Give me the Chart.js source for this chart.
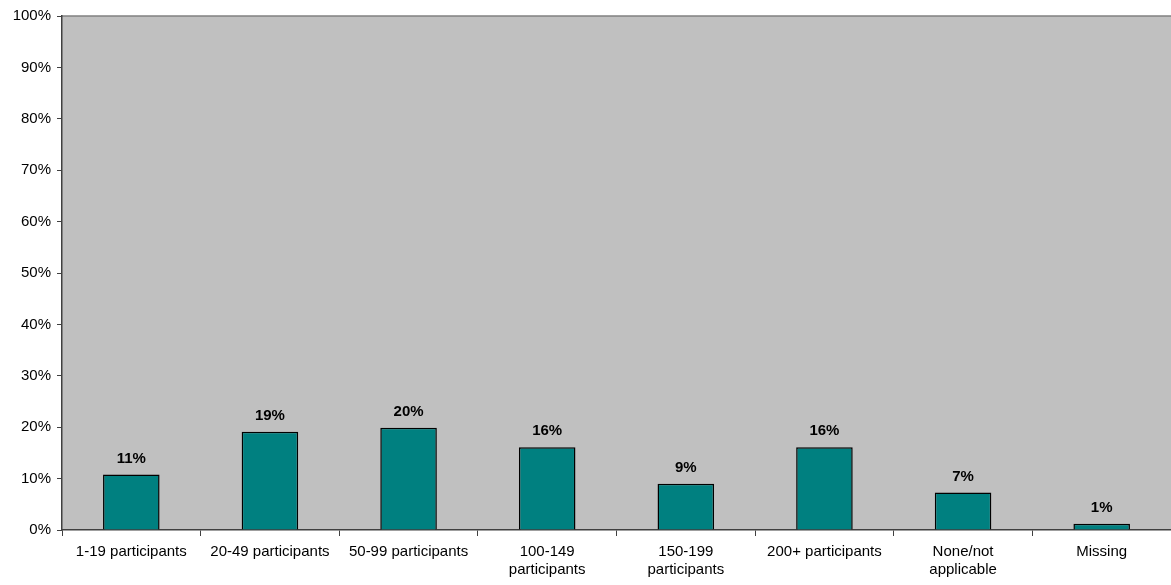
<!DOCTYPE html>
<html>
<head>
<meta charset="utf-8">
<script src="https://cdn.jsdelivr.net/npm/chart.js@4"></script>
<style>
  html, body { margin: 0; padding: 0; background: #fff; }
  #wrap { width: 1171px; height: 585px; }
</style>
</head>
<body>
<div id="wrap"><canvas id="myChart" width="1171" height="585"></canvas></div>
<script>
const categories = [
  '1-19 participants', '20-49 participants', '50-99 participants',
  ['100-149', 'participants'], ['150-199', 'participants'],
  '200+ participants', ['None/not', 'applicable'], 'Missing'
];
const percentValues = [10.8, 19.1, 19.9, 16.1, 9.0, 16.1, 7.3, 1.2];
const yTicks = [0, 10, 20, 30, 40, 50, 60, 70, 80, 90, 100];

// fondo gris del area + linea superior
const plotBg = {
  id: 'plotBg',
  beforeDraw(chart) {
    const { ctx, chartArea: a } = chart;
    ctx.save();
    ctx.fillStyle = '#C0C0C0';
    ctx.fillRect(a.left, a.top, a.right - a.left, a.bottom - a.top);
    ctx.strokeStyle = '#808080';
    ctx.lineWidth = 1.5;
    ctx.beginPath();
    ctx.moveTo(a.left, a.top);
    ctx.lineTo(a.right, a.top);
    ctx.stroke();
    ctx.restore();
  }
};

// etiquetas de valor encima de las barras
const barLabels = {
  id: 'barLabels',
  afterDatasetsDraw(chart) {
    const { ctx } = chart;
    const meta = chart.getDatasetMeta(0);
    ctx.save();
    ctx.font = 'bold 15px "Liberation Sans", Arial, sans-serif';
    ctx.fillStyle = '#000';
    ctx.textAlign = 'center';
    ctx.textBaseline = 'middle';
    meta.data.forEach((bar, i) => {
      ctx.fillText(Math.round(percentValues[i]) + '%', bar.x, bar.y - 16);
    });
    ctx.restore();
  }
};

const ctx = document.getElementById('myChart').getContext('2d');
new Chart(ctx, {
  type: 'bar',
  data: {
    labels: categories,
    datasets: [{
      data: percentValues,
      backgroundColor: '#008080',
      borderColor: '#000',
      borderWidth: 1.5,
      categoryPercentage: 0.8,
      barPercentage: 0.51
    }]
  },
  options: {
    responsive: false,
    animation: false,
    layout: { padding: { top: 16, right: 0, left: 0, bottom: 0 } },
    plugins: { legend: { display: false }, tooltip: { enabled: false } },
    scales: {
      x: {
        grid: { drawOnChartArea: false, drawTicks: true, tickLength: 6, color: '#404040', offset: true },
        border: { color: '#404040', width: 1.5 },
        ticks: {
          color: '#000',
          font: { family: '"Liberation Sans", Arial, sans-serif', size: 15, lineHeight: 1.2 },
          maxRotation: 0,
          autoSkip: false,
          padding: 7
        },
        afterFit(scale) { scale.height = 55; }
      },
      y: {
        min: 0,
        max: 100,
        afterBuildTicks(scale) { scale.ticks = yTicks.map(v => ({ value: v })); },
        grid: { drawOnChartArea: false, drawTicks: true, tickLength: 5, color: '#404040' },
        border: { color: '#404040', width: 1.5 },
        ticks: {
          color: '#000',
          font: { family: '"Liberation Sans", Arial, sans-serif', size: 15 },
          padding: 6,
          callback: v => v + '%'
        },
        afterFit(scale) { scale.width = 62; }
      }
    }
  },
  plugins: [plotBg, barLabels]
});
</script>
</body>
</html>
